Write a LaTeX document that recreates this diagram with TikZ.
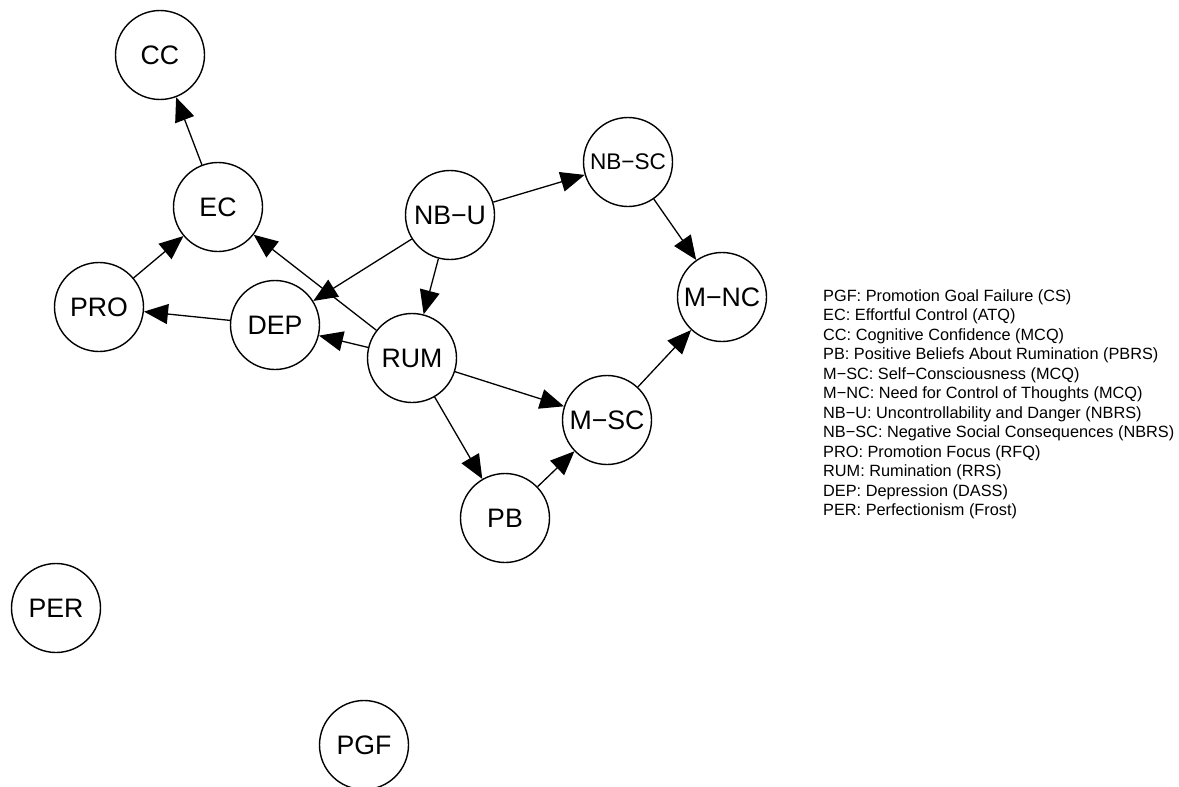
\documentclass[tikz,border=0pt]{standalone}
\usepackage{fontspec}
\setmainfont{Liberation Sans}
\usetikzlibrary{arrows.meta}
\tikzset{
  vnode/.style={circle, draw, line width=1.4pt, minimum size=89pt, inner sep=0pt, font=\fontsize{26.7}{30}\selectfont},
  edge/.style={line width=1.3pt, -{Triangle[length=24pt,width=20pt]}},
  legend/.style={anchor=base west, inner sep=0pt, font=\fontsize{16.3}{19.5}\selectfont}
}
\begin{document}
\begin{tikzpicture}[x=1pt,y=-1pt]
\useasboundingbox (0,0) rectangle (1179,787);
\node[vnode] (CC) at (160,55) {CC};
\node[vnode] (EC) at (218,207) {EC};
\node[vnode] (PRO) at (99,307) {PRO};
\node[vnode] (DEP) at (275,325) {DEP};
\node[vnode] (NBU) at (450,215) {NB−U};
\node[vnode, font=\fontsize{22.6}{26}\selectfont] (NBSC) at (628,162) {NB−SC};
\node[vnode] (MNC) at (722,297) {M−NC};
\node[vnode] (RUM) at (412,358) {RUM};
\node[vnode] (MSC) at (607,420) {M−SC};
\node[vnode] (PB) at (505,518) {PB};
\node[vnode] (PER) at (56,608) {PER};
\node[vnode] (PGF) at (364,745) {PGF};

\draw[edge] (EC) -- (CC);
\draw[edge] (PRO) -- (EC);
\draw[edge] (DEP) -- (PRO);
\draw[edge] (RUM) -- (EC);
\draw[edge] (RUM) -- (DEP);
\draw[edge] (NBU) -- (DEP);
\draw[edge] (NBU) -- (RUM);
\draw[edge] (NBU) -- (NBSC);
\draw[edge] (NBSC) -- (MNC);
\draw[edge] (RUM) -- (MSC);
\draw[edge] (RUM) -- (PB);
\draw[edge] (PB) -- (MSC);
\draw[edge] (MSC) -- (MNC);

\foreach \t [count=\i] in {
  PGF: Promotion Goal Failure (CS),
  EC: Effortful Control (ATQ),
  CC: Cognitive Confidence (MCQ),
  PB: Positive Beliefs About Rumination (PBRS),
  M−SC: Self−Consciousness (MCQ),
  M−NC: Need for Control of Thoughts (MCQ),
  NB−U: Uncontrollability and Danger (NBRS),
  NB−SC: Negative Social Consequences (NBRS),
  PRO: Promotion Focus (RFQ),
  RUM: Rumination (RRS),
  DEP: Depression (DASS),
  PER: Perfectionism (Frost)}
  \node[legend] (leg\i) at (823,{301+(\i-1)*19.5}) {\t};
\end{tikzpicture}
\end{document}
